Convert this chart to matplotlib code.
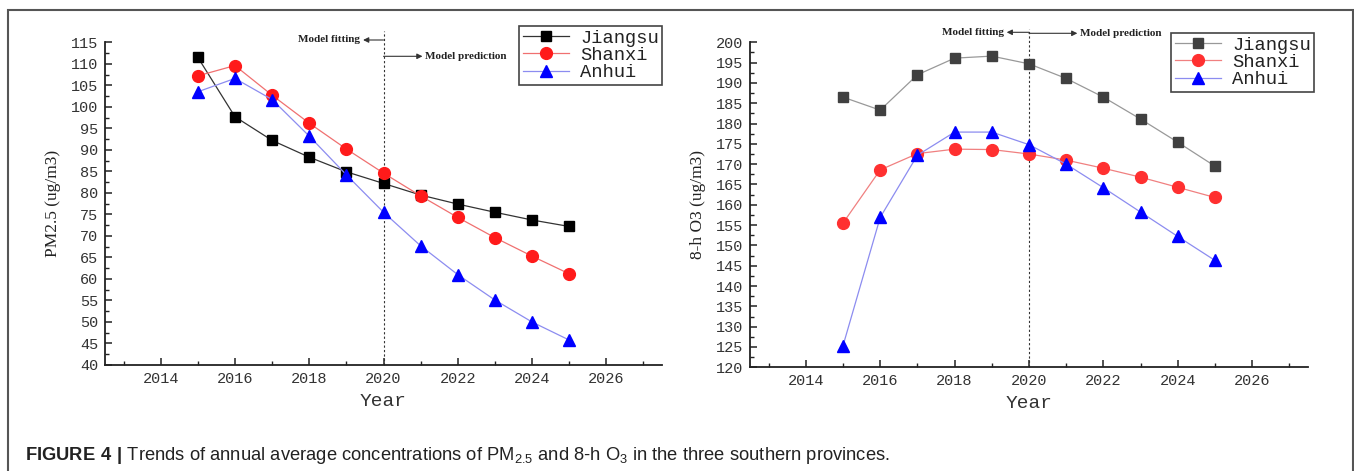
import matplotlib
matplotlib.use("Agg")
import matplotlib.pyplot as plt
from matplotlib.ticker import MultipleLocator
from matplotlib.patches import Rectangle

years = [2015, 2016, 2017, 2018, 2019, 2020, 2021, 2022, 2023, 2024, 2025]
series = ["Jiangsu", "Shanxi", "Anhui"]

pm25_jiangsu = [111.5, 97.7, 92.2, 88.3, 84.9, 82.2, 79.5, 77.4, 75.5, 73.7, 72.2]
pm25_shanxi = [107.2, 109.6, 102.7, 96.2, 90.2, 84.6, 79.3, 74.3, 69.6, 65.3, 61.2]
pm25_anhui = [103.5, 106.6, 101.7, 93.2, 84.2, 75.5, 67.7, 61.0, 55.1, 50.0, 45.8]

o3_jiangsu = [186.5, 183.3, 192.0, 196.1, 196.6, 194.7, 191.1, 186.5, 181.1, 175.4, 169.5]
o3_shanxi = [155.5, 168.6, 172.6, 173.7, 173.6, 172.5, 171.0, 169.0, 166.8, 164.3, 161.8]
o3_anhui = [125.3, 156.9, 172.2, 177.9, 177.9, 174.8, 170.0, 164.2, 158.2, 152.2, 146.3]

xticks = [2014, 2016, 2018, 2020, 2022, 2024, 2026]
split_year = 2020

plt.rcParams['mathtext.fontset'] = 'custom'
plt.rcParams['mathtext.rm'] = 'Liberation Sans'
plt.rcParams['mathtext.bf'] = 'Liberation Sans:bold'

W, H = 1354, 471
fig = plt.figure(figsize=(W / 100, H / 100), dpi=100)

def fx(px):
    return px / W

def fy(py):
    return 1 - py / H

mono = 'Liberation Mono'

def draw_panel(rect, data, ylim, ystep, ylabel, styles, legend_bbox, ann):
    ax = fig.add_axes(rect)
    ppu = rect[3] * H / (ylim[1] - ylim[0])  # pixels per data unit
    for name, vals, st in zip(series, data, styles):
        ax.plot(years, vals, color=st['line'], lw=0.9, marker=st['marker'],
                markersize=st['ms'], markerfacecolor=st['mk'], markeredgecolor=st['mk'],
                label=name, zorder=3)
    ax.set_xlim(2012.5, 2027.5)
    ax.set_ylim(*ylim)
    ax.set_xticks(xticks)
    ax.xaxis.set_minor_locator(MultipleLocator(1))
    ax.yaxis.set_major_locator(MultipleLocator(ystep))
    ax.yaxis.set_minor_locator(MultipleLocator(ystep / 2))
    ax.spines['top'].set_visible(False)
    ax.spines['right'].set_visible(False)
    for s in ('left', 'bottom'):
        ax.spines[s].set_linewidth(1.3)
        ax.spines[s].set_color('#222222')
    ax.tick_params(which='major', direction='in', length=5, width=1.1, color='#222222', pad=5)
    ax.tick_params(which='minor', direction='in', length=3, width=1.0, color='#222222')
    for lab in ax.get_xticklabels() + ax.get_yticklabels():
        lab.set_fontfamily(mono)
        lab.set_fontsize(11)
        lab.set_color('#333333')
    ax.set_xlabel('Year', fontfamily=mono, fontsize=14, color='#333333', labelpad=5)
    ax.set_ylabel(ylabel, fontfamily='Liberation Serif', fontsize=12.5, color='#222222', labelpad=7)
    # dashed split line (extends above axes)
    ax.plot([split_year, split_year], [ylim[0], ylim[1] + ann['ltop'] / ppu], ls=(0, (2, 2)),
            lw=0.8, color='#333333', clip_on=False, zorder=2)
    y1 = ylim[1] + ann['y_fit'] / ppu
    y2 = ylim[1] + ann['y_pred'] / ppu
    ax.annotate('', xy=(split_year - ann['dl'], y1), xytext=(split_year, y1),
                arrowprops=dict(arrowstyle='-|>', color='#333333', lw=0.8,
                                mutation_scale=8, shrinkA=0, shrinkB=0),
                annotation_clip=False)
    ax.text(split_year - ann['dl'] - 0.08, y1, 'Model fitting', ha='right', va='center',
            fontfamily='Liberation Serif', fontsize=8, fontweight='bold', color='#222222')
    ax.annotate('', xy=(split_year + ann['dr'], y2), xytext=(split_year, y2),
                arrowprops=dict(arrowstyle='-|>', color='#333333', lw=0.8,
                                mutation_scale=8, shrinkA=0, shrinkB=0),
                annotation_clip=False)
    ax.text(split_year + ann['dr'] + 0.08, y2, 'Model prediction', ha='left', va='center',
            fontfamily='Liberation Serif', fontsize=8, fontweight='bold', color='#222222')
    leg = ax.legend(loc='upper left', bbox_to_anchor=legend_bbox, bbox_transform=fig.transFigure,
                    prop=dict(family=mono, size=13.5), frameon=True, fancybox=False,
                    edgecolor='#444444', framealpha=1, borderpad=0.2, labelspacing=0.0,
                    handlelength=2.45, handletextpad=0.6, borderaxespad=0)
    leg.get_frame().set_linewidth(1.2)
    for t in leg.get_texts():
        t.set_color('#222222')
    return ax

styles_left = [
    dict(line='#333333', mk='#000000', marker='s', ms=7.5),
    dict(line='#f07070', mk='#ff1a1a', marker='o', ms=8.5),
    dict(line='#8c8cf0', mk='#0000ff', marker='^', ms=9),
]
styles_right = [
    dict(line='#999999', mk='#404040', marker='s', ms=7.5),
    dict(line='#f08080', mk='#ff3030', marker='o', ms=8.5),
    dict(line='#8c8cf0', mk='#0000ff', marker='^', ms=9),
]

draw_panel([fx(105), fy(365), fx(662) - fx(105), fy(42.3) - fy(365)],
           [pm25_jiangsu, pm25_shanxi, pm25_anhui], (40, 115), 5, 'PM2.5 (ug/m3)',
           styles_left, (fx(519), fy(26)),
           dict(ltop=11, y_fit=2.3, y_pred=-14, dl=0.55, dr=1.05))

draw_panel([fx(750), fy(367.3), fx(1308) - fx(750), fy(42.3) - fy(367.3)],
           [o3_jiangsu, o3_shanxi, o3_anhui], (120, 200), 5, '8-h O3 (ug/m3)',
           styles_right, (fx(1171), fy(33)),
           dict(ltop=13, y_fit=10, y_pred=9, dl=0.6, dr=1.3))

# outer frame
fig.add_artist(Rectangle((fx(8), -0.05), fx(1353) - fx(8), fy(10) + 0.05,
                         transform=fig.transFigure, fill=False, edgecolor='#555555', lw=1.5))

fig.text(fx(25), fy(456),
         r"$\mathbf{FIGURE\ 4\ |}$ Trends of annual average concentrations of PM$_{2.5}$ and 8-h O$_3$ in the three southern provinces.",
         ha='left', va='center', fontfamily='Liberation Sans', fontsize=13.2, color='#222222')

fig.savefig('out.png', dpi=100)
